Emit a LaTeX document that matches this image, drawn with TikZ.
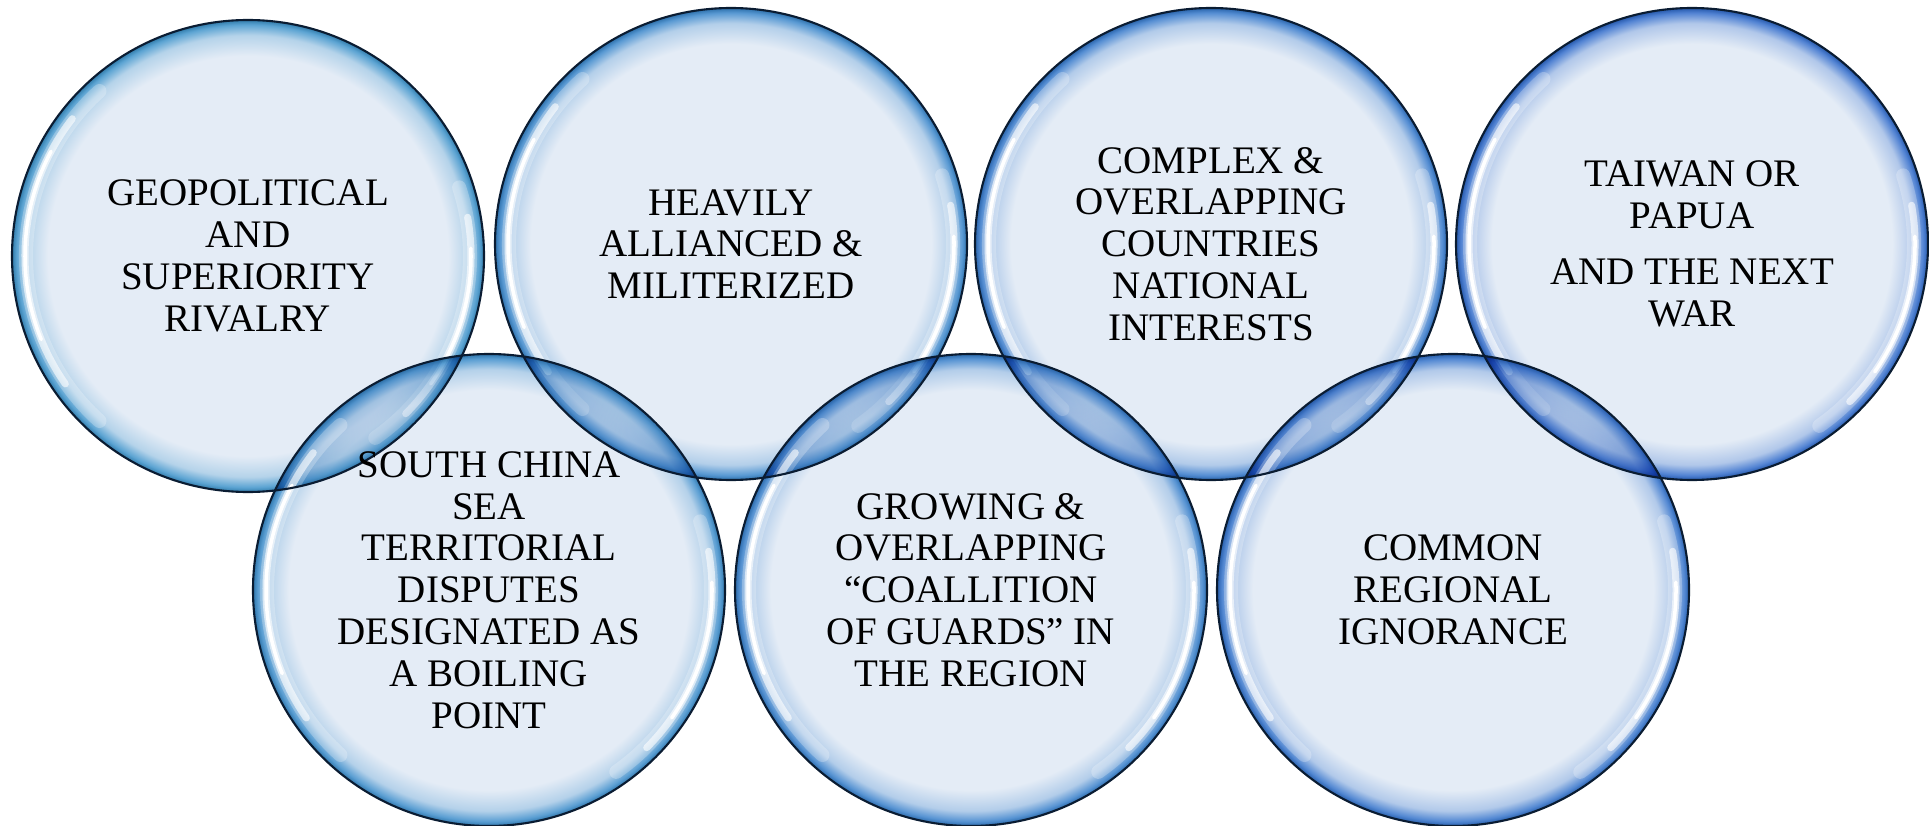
\documentclass[tikz,border=0pt]{standalone}
\usepackage{fontspec}
\setmainfont{Liberation Serif}
\usetikzlibrary{backgrounds}

\definecolor{bubin}{RGB}{228,236,246}
\definecolor{rimleft}{RGB}{58,146,202}
\definecolor{rimright}{RGB}{44,104,202}
\definecolor{bubline}{RGB}{10,28,50}
\colorlet{bubrim}{rimleft}

\pgfdeclareradialshading[bubrim]{bubble}{\pgfpointorigin}{%
  color(0bp)=(bubin); color(21.2bp)=(bubin); color(23.4bp)=(bubrim!28!bubin);
  color(24.5bp)=(bubrim!80!bubin); color(25bp)=(bubrim!85!black); color(50bp)=(bubrim!85!black)}

\tikzset{
  bubble/.style={circle, draw=bubline, line width=0.6pt, minimum size=4.72cm,
    inner sep=0pt, align=center, font=\fontsize{11.1}{11.9}\selectfont},
  shine/.style={white, line cap=round}
}

\begin{document}
\begin{tikzpicture}
\useasboundingbox (0,0) rectangle (19.29,8.25);

\node[bubble] (geo) at (2.48,5.69) {GEOPOLITICAL\\AND\\SUPERIORITY\\RIVALRY};
\node[bubble] (allied) at (7.31,5.81) {HEAVILY\\ALLIANCED \&\\MILITERIZED};
\node[bubble] (interests) at (12.11,5.81) {COMPLEX \&\\OVERLAPPING\\COUNTRIES\\NATIONAL\\INTERESTS};
\node[bubble] (taiwan) at (16.92,5.81) {TAIWAN OR\\PAPUA\\[4pt]AND THE NEXT\\WAR};
\node[bubble] (scs) at (4.89,2.35) {SOUTH CHINA\\SEA\\TERRITORIAL\\DISPUTES\\DESIGNATED AS\\A BOILING\\POINT};
\node[bubble] (guards) at (9.71,2.35) {GROWING \&\\OVERLAPPING\\“COALLITION\\OF GUARDS” IN\\THE REGION};
\node[bubble] (ignorance) at (14.53,2.35) {COMMON\\REGIONAL\\IGNORANCE};

\begin{scope}[on background layer]
\foreach \n/\m in {geo/0,allied/33,interests/67,taiwan/100,scs/17,guards/50,ignorance/83}{
  \colorlet{bubrim}{rimright!\m!rimleft}
  \shade[shading=bubble, blend mode=multiply] (\n.center) circle (2.36);
  \draw[shine, line width=4pt, opacity=.25] ([shift={(132:2.22)}]\n.center) arc[start angle=132, end angle=228, radius=2.22];
  \draw[shine, line width=2pt, opacity=.6] ([shift={(142:2.23)}]\n.center) arc[start angle=142, end angle=215, radius=2.23];
  \draw[shine, line width=1pt] ([shift={(152:2.23)}]\n.center) arc[start angle=152, end angle=202, radius=2.23];
  \draw[shine, line width=4pt, opacity=.25] ([shift={(-55:2.22)}]\n.center) arc[start angle=-55, end angle=18, radius=2.22];
  \draw[shine, line width=2pt, opacity=.6] ([shift={(-45:2.23)}]\n.center) arc[start angle=-45, end angle=10, radius=2.23];
  \draw[shine, line width=1pt] ([shift={(-35:2.23)}]\n.center) arc[start angle=-35, end angle=2, radius=2.23];
}
\end{scope}
\end{tikzpicture}
\end{document}
